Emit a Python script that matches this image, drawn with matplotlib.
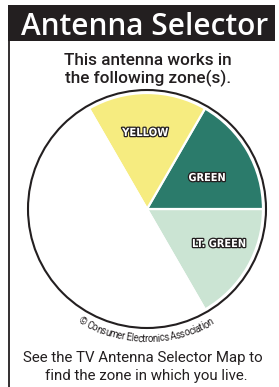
import matplotlib
matplotlib.use('Agg')
import matplotlib.pyplot as plt
import matplotlib.patheffects as pe
from matplotlib.patches import Rectangle, Circle
from matplotlib import font_manager as fm
import numpy as np

# ---------------- data ----------------
zones = ['LT. GREEN', 'GREEN', 'YELLOW', '']
spans = [60, 60, 60, 180]                       # degrees of each sector
colors = ['#CBE4D3', '#2B7B6B', '#F6EC80', '#FFFFFF']
title = 'Antenna Selector'
subtitle = ['This antenna works in', 'the following zone(s).']
footer = ['See the TV Antenna Selector Map to', 'find the zone in which you live.']
copyright_txt = '\u00a9 Consumer Electronics Association'

# ---------------- layout ----------------
W, H = 279, 387
def Y(y):
    return H - y

names = {f.name for f in fm.fontManager.ttflist}
def pick(*cands):
    for c in cands:
        if c in names:
            return c
    return 'DejaVu Sans'

narrow = pick('Liberation Sans Narrow', 'Roboto', 'Liberation Sans')
humanist = pick('Open Sans', 'Noto Sans', 'Lato')
cond_ok = any(f.name == 'DejaVu Sans' and 'ondensed' in str(f.stretch) or
              (f.name == 'DejaVu Sans' and 'Condensed' in f.fname) for f in fm.fontManager.ttflist)
lab_family = 'DejaVu Sans' if cond_ok else narrow
lab_stretch = 'condensed' if cond_ok else 'normal'

fig = plt.figure(figsize=(W / 100, H / 100), dpi=100)
ax = fig.add_axes([0, 0, 1, 1])

cx, cy, R = 147, Y(209), 119

ax.pie(spans, colors=colors, startangle=-60, counterclock=True,
       center=(cx, cy), radius=R - 3, frame=True,
       wedgeprops=dict(edgecolor='white', linewidth=1.6))
ax.add_patch(Circle((cx, cy), R, fill=False, edgecolor='#231F20', linewidth=1.5, zorder=5))

ax.set_xlim(0, W)
ax.set_ylim(0, H)
ax.set_aspect('auto')
ax.set_axis_off()

# header bar and left rule
ax.add_patch(Rectangle((8, Y(41)), 267, 36, facecolor='#231F20', edgecolor='none', zorder=6))
ax.plot([9, 9], [0, Y(5)], color='#231F20', lw=1.3, solid_capstyle='butt', zorder=6)

fig.canvas.draw()
rend = fig.canvas.get_renderer()

def fit(t, target_w):
    w = t.get_window_extent(rend).width
    t.set_fontsize(t.get_fontsize() * target_w / w)
    return t.get_fontsize()

t = ax.text(145, Y(35), title, ha='center', va='baseline', color='white',
            fontsize=20, family=humanist, weight='semibold', zorder=7)
fit(t, 246)

sub_t = [ax.text(148, Y(yb), s, ha='center', va='baseline', color='#231F20',
                 fontsize=11, family=narrow, weight='medium')
         for s, yb in zip(subtitle, [65, 83])]
fs = fit(sub_t[1], 166)
sub_t[0].set_fontsize(fs)

foot_t = [ax.text(xc, Y(yb), s, ha='center', va='baseline', color='#231F20',
                  fontsize=11, family=narrow)
          for s, yb, xc in zip(footer, [362, 380], [143, 146])]
fs = fit(foot_t[0], 240)
foot_t[1].set_fontsize(fs)

# sector labels
label_layout = {'YELLOW': (145, 133, 46), 'GREEN': (207, 178, 37), 'LT. GREEN': (219, 244, 54)}
for z in zones:
    if not z:
        continue
    x, y, wt = label_layout[z]
    t = ax.text(x, Y(y), z, ha='center', va='center', color='white', fontsize=8,
                family=lab_family, stretch=lab_stretch, weight='bold', zorder=8,
                path_effects=[pe.Stroke(linewidth=1.8, foreground='#231F20'), pe.Normal()])
    fit(t, wt)

# curved copyright text
size = 7.0
fp = fm.FontProperties(family=narrow, size=size)
font = fm.get_font(fm.findfont(fp))
font.set_size(size, 100)
adv = []
for ch in copyright_txt:
    g = font.load_char(ord(ch))
    adv.append(g.linearHoriAdvance / 65536.0)
adv = np.array(adv) * 0.9
centers = np.cumsum(adv) - adv / 2
total = adv.sum()
rb = 133
thc = np.deg2rad(-90.5)
th0 = thc - total / rb / 2
for ch, c in zip(copyright_txt, centers):
    th = th0 + c / rb
    ax.text(cx + rb * np.cos(th), cy + rb * np.sin(th), ch, ha='center', va='baseline',
            rotation=np.rad2deg(th) + 90, rotation_mode='anchor',
            fontsize=size, family=narrow, color='#231F20')

fig.savefig('out.png', dpi=100)
